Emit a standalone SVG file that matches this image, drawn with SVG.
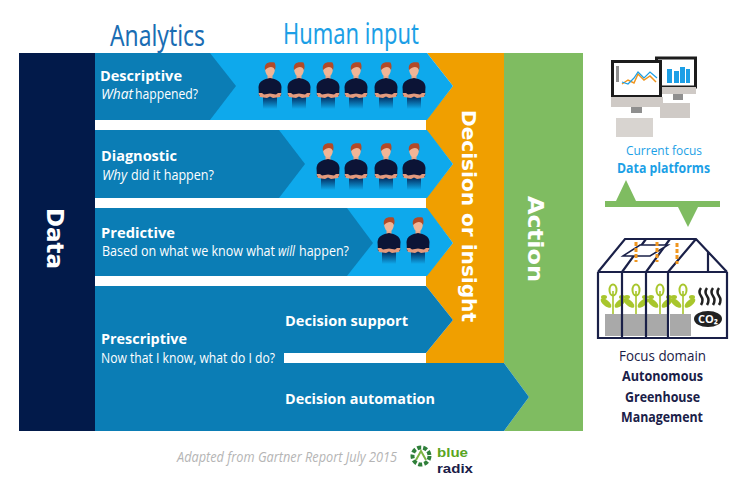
<svg xmlns="http://www.w3.org/2000/svg" width="744" height="496" viewBox="0 0 744 496">
<style>
text{font-family:"Open Sans","Liberation Sans",sans-serif}
.h{font-size:29px;font-family:"Noto Sans","Open Sans",sans-serif}
.t{font-size:14px;font-weight:700;fill:#fff}
.s{font-size:14px;fill:#fff}
.v{font-family:"DejaVu Sans",sans-serif;font-weight:700;fill:#fff}
.d{fill:#0b7db5}
.l{fill:#0ea9ec}
.g{fill:#7fbc61}
.n{fill:none;stroke:#1a2048;stroke-width:2.2}
.leaf{fill:#a8c62c}
.pot{fill:#a9a9a9}
.kb{fill:#d8d4d0}
.sc{fill:#cfcac6}
.logo{font-family:"Liberation Sans",sans-serif;font-size:13.500px;font-weight:700}
</style>
<defs>
<linearGradient id="fade" x1="0" y1="0" x2="0" y2="1"><stop offset="0" stop-color="#021a4a"/><stop offset="1" stop-color="#021a4a" stop-opacity="0"/></linearGradient>
<g id="person">
<rect x="-2.500" y="-9" width="5" height="6" fill="#e8a78a"/>
<path d="M-11.500 4C-11 -2-6 -4 0 -5C6 -4 11 -2 11.500 4L11 13L-11 13Z" fill="#0c1436"/>
<rect x="-7" y="12" width="14" height="14" fill="url(#fade)"/>
<path d="M-11.500 10H-8L-6 11.500L0 10.500L6 11.500L8 10H11.500L10 14L3 15L0 13.500L-3 15L-10 14Z" fill="#e39a7d"/>
<ellipse cx="0" cy="-13" rx="4.800" ry="6.500" fill="#f0b596"/>
<path d="M-5 -13C-6 -19-3 -21.500 4.500 -20.500C6 -18 5.500 -15 5 -13C3.500 -17-1 -17-5 -13Z" fill="#b24a27"/>
</g>
<g id="plant">
<rect x="-0.800" y="-8" width="1.600" height="23" class="leaf"/>
<ellipse cx="0" cy="-9" rx="3.500" ry="5.500" fill="none" stroke="#a8c62c" stroke-width="2"/>
<ellipse cx="-7" cy="4" rx="6.500" ry="3" class="leaf" transform="rotate(40 -7 4)"/>
<ellipse cx="7" cy="4" rx="6.500" ry="3" class="leaf" transform="rotate(-40 7 4)"/>
<ellipse cx="-9" cy="-2" rx="3" ry="2" class="leaf"/>
<ellipse cx="9" cy="-2" rx="3" ry="2" class="leaf"/>
</g>
</defs>
<rect width="744" height="496" fill="#fff"/>

<g id="connectors">
<path class="g" d="M605 201H616L626 180L636 201H720V207H698L688 227L678 207H605Z"/>
</g>

<g id="headers">
<text class="h" x="110" y="46" fill="#1a6db3" textLength="95" lengthAdjust="spacingAndGlyphs">Analytics</text>
<text class="h" x="283" y="44" fill="#1c9fe6" textLength="136" lengthAdjust="spacingAndGlyphs">Human input</text>
</g>

<g id="action">
<path class="g" d="M504 53H583V431H504L529 397L504 363Z"/>
<text class="v" transform="translate(528,196) rotate(90)" font-size="22" textLength="86" lengthAdjust="spacingAndGlyphs">Action</text>
</g>
<g id="decision">
<path fill="#f09f00" d="M427 53H504V363H426V353L453 320L426 286V276L453 243L426 208V198L453 164L426 130V120L453 86Z"/>
<text class="v" transform="translate(462,110) rotate(90)" font-size="19" textLength="212" lengthAdjust="spacingAndGlyphs">Decision or insight</text>
</g>
<g id="data">
<rect x="19" y="53" width="76" height="378" fill="#021a4a"/>
<text class="v" transform="translate(47,208) rotate(90)" font-size="23" textLength="61" lengthAdjust="spacingAndGlyphs">Data</text>
</g>

<g id="descriptive">
<path class="l" d="M95 53H427L453 86L427 120H95Z"/>
<path class="d" d="M95 53H210L236 86L210 120H95Z"/>
<text class="t" x="100" y="81" textLength="82" lengthAdjust="spacingAndGlyphs">Descriptive</text>
<text class="s" x="101" y="99" font-style="italic" textLength="32" lengthAdjust="spacingAndGlyphs">What</text>
<text class="s" x="135" y="99" textLength="63" lengthAdjust="spacingAndGlyphs">happened?</text>
<use href="#person" x="270" y="83"/><use href="#person" x="299" y="83"/><use href="#person" x="328" y="83"/><use href="#person" x="356" y="83"/><use href="#person" x="386" y="83"/><use href="#person" x="414" y="83"/>
</g>
<g id="diagnostic">
<path class="l" d="M95 130H427L453 164L427 198H95Z"/>
<path class="d" d="M95 130H279L305 164L279 198H95Z"/>
<text class="t" x="101" y="161" textLength="76" lengthAdjust="spacingAndGlyphs">Diagnostic</text>
<text class="s" x="102" y="180" font-style="italic" textLength="25" lengthAdjust="spacingAndGlyphs">Why</text>
<text class="s" x="131" y="180" textLength="83" lengthAdjust="spacingAndGlyphs">did it happen?</text>
<use href="#person" x="328" y="164"/><use href="#person" x="356" y="164"/><use href="#person" x="386" y="164"/><use href="#person" x="414" y="164"/>
</g>
<g id="predictive">
<path class="l" d="M95 208H427L453 243L427 276H95Z"/>
<path class="d" d="M95 208H347L373 243L347 276H95Z"/>
<text class="t" x="101" y="238" textLength="74" lengthAdjust="spacingAndGlyphs">Predictive</text>
<text class="s" x="102" y="256" textLength="173" lengthAdjust="spacingAndGlyphs">Based on what we know what</text>
<text class="s" x="278" y="256" font-style="italic" textLength="17" lengthAdjust="spacingAndGlyphs">will</text>
<text class="s" x="299" y="256" textLength="50" lengthAdjust="spacingAndGlyphs">happen?</text>
<use href="#person" x="389" y="238"/><use href="#person" x="418" y="238"/>
</g>
<g id="prescriptive">
<path class="d" d="M95 286H426L453 320L426 353H284V363H504L529 397L504 431H95Z"/>
<text class="t" x="101" y="344" textLength="86" lengthAdjust="spacingAndGlyphs">Prescriptive</text>
<text class="s" x="101" y="363" textLength="174" lengthAdjust="spacingAndGlyphs">Now that I know, what do I do?</text>
<text class="t" x="285" y="326" textLength="123" lengthAdjust="spacingAndGlyphs">Decision support</text>
<text class="t" x="285" y="404" textLength="150" lengthAdjust="spacingAndGlyphs">Decision automation</text>
</g>

<g id="footer">
<text x="177" y="462" font-size="14" font-style="italic" fill="#b5b5b5" textLength="220" lengthAdjust="spacingAndGlyphs">Adapted from Gartner Report July 2015</text>
</g>
<g id="logo">
<circle cx="421" cy="456" r="8.500" fill="none" stroke="#2f7f3a" stroke-width="4" stroke-dasharray="4 2"/>
<path d="M416 460L421 451L426 460" fill="none" stroke="#7cb342" stroke-width="2"/>
<text class="logo" x="437" y="457" fill="#5aa51f" textLength="31" lengthAdjust="spacingAndGlyphs">blue</text>
<text class="logo" x="437" y="473" fill="#1a2048" textLength="36" lengthAdjust="spacingAndGlyphs">radix</text>
</g>

<g id="platforms">
<rect x="656.500" y="58" width="39" height="29" fill="#fff" stroke="#1c1c1c" stroke-width="3"/>
<rect x="667" y="69" width="5" height="14" fill="#1c9fe6"/><rect x="674" y="71" width="5" height="12" fill="#1c9fe6"/><rect x="680" y="67" width="5" height="16" fill="#1c9fe6"/><rect x="686" y="69" width="4" height="14" fill="#1c9fe6"/>
<rect x="662" y="87" width="34" height="7" class="sc"/><rect x="673" y="94" width="10" height="6" fill="#8f8f8f"/><rect x="660" y="103" width="30" height="15" class="sc"/>
<rect x="612.500" y="61.500" width="48" height="35" fill="#fff" stroke="#1c1c1c" stroke-width="3"/>
<rect x="616" y="66" width="3" height="16" fill="#8f8f8f"/>
<path d="M622 84L628 80L634 83L638 74L644 80L650 76L656 82" fill="none" stroke="#f0961e" stroke-width="1.500"/>
<path d="M622 82L628 84L634 78L638 72L644 78L650 72L657 78" fill="none" stroke="#1c9fe6" stroke-width="1.200"/>
<rect x="611" y="97" width="52" height="10" class="sc"/><rect x="631" y="107" width="11" height="6" fill="#8f8f8f"/>
<rect x="616" y="118" width="37" height="19" class="kb"/>
<text x="626" y="155" font-size="13" fill="#1c9fe6" textLength="76" lengthAdjust="spacingAndGlyphs">Current focus</text>
<text x="617" y="173" font-size="14" font-weight="700" fill="#1c9fe6" textLength="93" lengthAdjust="spacingAndGlyphs">Data platforms</text>
</g>

<g id="greenhouse">
<rect x="605" y="314" width="16" height="22" class="pot"/><rect x="623" y="314" width="22" height="22" class="pot"/><rect x="647" y="314" width="20" height="22" class="pot"/><rect x="670" y="314" width="21" height="22" class="pot"/>
<use href="#plant" x="613" y="299"/><use href="#plant" x="636" y="299"/><use href="#plant" x="660" y="299"/><use href="#plant" x="683" y="299"/>
<path class="n" d="M598 272L625 239H696L727 272M598 272H727M598 272V338H727V272M622 272V338M646 272V338M668 272V338M622 272L646 239M646 272L670 239M668 272L696 239M708 252V272"/>
<path d="M623 256L640 245H668L650 256Z" fill="#fff" stroke="#1a2048" stroke-width="1.500"/>
<path d="M636 242V262M657 242V262M677 243V264" stroke="#f0961e" stroke-width="3" stroke-dasharray="4 2"/>
<path d="M701 288q-3 4 0 8t0 9M707 288q-3 4 0 8t0 9M713 288q-3 4 0 8t0 9M719 288q-3 4 0 8t0 9" fill="none" stroke="#222" stroke-width="2.500"/>
<ellipse cx="708" cy="319" rx="14" ry="8" fill="#222"/>
<text x="698" y="323" font-size="11" font-weight="700" fill="#fff" textLength="20" lengthAdjust="spacingAndGlyphs">CO₂</text>
<text x="619" y="361" font-size="14" fill="#1a2048" textLength="87" lengthAdjust="spacingAndGlyphs">Focus domain</text>
<text x="622" y="381" font-size="14" font-weight="700" fill="#1a2048" textLength="81" lengthAdjust="spacingAndGlyphs">Autonomous</text>
<text x="625" y="402" font-size="14" font-weight="700" fill="#1a2048" textLength="75" lengthAdjust="spacingAndGlyphs">Greenhouse</text>
<text x="621" y="422" font-size="14" font-weight="700" fill="#1a2048" textLength="82" lengthAdjust="spacingAndGlyphs">Management</text>
</g>
</svg>
